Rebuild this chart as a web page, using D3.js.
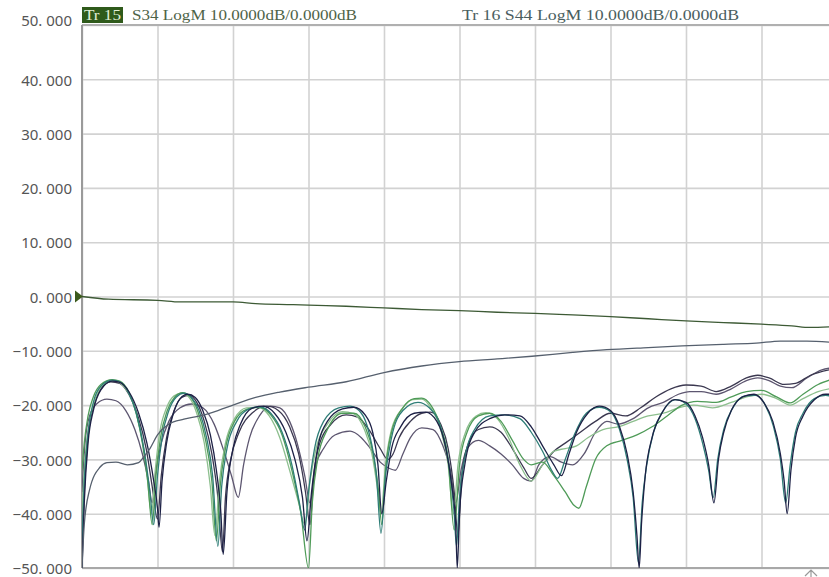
<!DOCTYPE html>
<html><head><meta charset="utf-8">
<script src="https://cdn.jsdelivr.net/npm/d3@7"></script>
<style>
html,body{margin:0;padding:0;background:#fff;}
svg{display:block;}
</style></head>
<body>
<svg id="c" width="829" height="577"></svg>
<script>
// ---------- data (x in divisions 0..10, y in dB) ----------
const yTicks = [50, 40, 30, 20, 10, 0, -10, -20, -30, -40, -50];
const xDivs = [0,1,2,3,4,5,6,7,8,9,10];
const header1Tag = "Tr 15";
const header1Text = "S34 LogM 10.0000dB/0.0000dB";
const header2Text = "Tr 16 S44 LogM 10.0000dB/0.0000dB";

const traceS34 = [[0,0],[0.35,-0.5],[1.0,-0.7],[1.3,-1.0],[2.0,-1.0],[2.3,-1.3],[2.8,-1.5],[3.0,-1.6],[3.5,-1.8],[4.0,-2.1],[4.5,-2.4],[5.0,-2.6],[5.5,-2.9],[6.0,-3.1],[6.5,-3.4],[7.0,-3.7],[7.5,-4.1],[8.0,-4.5],[8.5,-4.8],[9.0,-5.1],[9.4,-5.4],[9.64,-5.7],[9.9,-5.6]];

const traceS44 = [[0,-50],[0.03,-42],[0.1,-35.6],[0.24,-31.4],[0.33,-30.6],[0.45,-30.5],[0.6,-31],[0.75,-30.6],[0.82,-29.5],[0.9,-28],[1.0,-25.5],[1.15,-23.5],[1.35,-22.6],[1.56,-22.0],[1.8,-21],[2.0,-20],[2.3,-18.6],[2.62,-17.6],[3.0,-16.7],[3.5,-15.7],[4.0,-14.0],[4.5,-12.8],[5.0,-12.0],[5.5,-11.5],[5.96,-11.0],[6.5,-10.3],[6.95,-9.8],[7.5,-9.4],[7.95,-9.1],[8.5,-8.8],[8.93,-8.6],[9.25,-8.2],[9.6,-8.2],[9.9,-8.4]];

const traceNavy = [[0,-50],[0.03,-38],[0.08,-27],[0.15,-21],[0.25,-17.2],[0.4,-15.6],[0.5,-15.8],[0.62,-17.5],[0.75,-21.5],[0.86,-27],[0.95,-34],[1.0,-39],[1.02,-42.5],
[1.06,-34],[1.12,-27],[1.2,-22],[1.3,-18.8],[1.4,-18],[1.5,-18.6],[1.6,-21],[1.7,-25.5],[1.78,-32],[1.84,-40],[1.87,-47.5],
[1.92,-36],[2.0,-28],[2.1,-23.5],[2.25,-20.6],[2.4,-20.2],[2.55,-21.5],[2.7,-25],[2.82,-30],[2.92,-37],[2.98,-45],
[3.04,-36],[3.12,-28],[3.25,-23],[3.45,-20.7],[3.6,-20.4],[3.75,-21.8],[3.85,-25],[3.92,-31],[3.97,-40],
[4.03,-34],[4.1,-28],[4.22,-24],[4.4,-21.5],[4.55,-21.3],[4.7,-23],[4.82,-28],[4.9,-35],[4.95,-42],[4.97,-50],
[5.0,-40],[5.07,-31],[5.2,-25],[5.4,-22.5],[5.6,-21.8],[5.8,-22],[5.95,-24],[6.1,-27.5],[6.25,-31],[6.35,-33],
[6.45,-29],[6.55,-25],[6.7,-21.5],[6.85,-20.2],[7.0,-21],[7.12,-24],[7.22,-29],[7.3,-36],[7.35,-44],[7.38,-50],
[7.41,-42],[7.46,-33],[7.55,-26],[7.68,-21.5],[7.85,-19],[8.0,-19.5],[8.12,-22],[8.22,-26],[8.3,-31],[8.37,-38],
[8.43,-30],[8.5,-25],[8.6,-21],[8.75,-18.5],[8.9,-18],[9.03,-19.5],[9.15,-23],[9.25,-29],[9.3,-34],[9.34,-40],
[9.39,-32],[9.45,-26],[9.55,-22],[9.7,-19],[9.85,-18],[9.9,-18]];

const traceTeal = [[0,-45],[0.03,-34],[0.08,-25],[0.15,-19.5],[0.25,-16.5],[0.4,-15.4],[0.5,-15.7],[0.62,-17.8],[0.72,-21.5],[0.82,-28],[0.9,-36],[0.95,-42],
[1.0,-33],[1.06,-26],[1.15,-21],[1.25,-18.5],[1.35,-17.8],[1.45,-18.6],[1.55,-21],[1.65,-26],[1.73,-33],[1.8,-46],
[1.85,-35],[1.92,-28],[2.05,-23],[2.2,-20.8],[2.35,-20.3],[2.5,-21.5],[2.65,-25],[2.78,-31],[2.88,-38],[2.95,-43],
[3.0,-36],[3.08,-28],[3.2,-23],[3.4,-20.5],[3.55,-20.2],[3.7,-21.5],[3.8,-25],[3.9,-33],[3.96,-43.6],
[4.02,-33],[4.1,-26],[4.25,-21],[4.45,-19.5],[4.6,-20.5],[4.75,-24],[4.85,-30],[4.93,-40],[4.96,-46],
[5.0,-37],[5.08,-29],[5.2,-24.5],[5.4,-22],[5.6,-21.8],[5.8,-22.5],[5.95,-25],[6.1,-28.5],[6.22,-32],[6.3,-33.5],
[6.4,-30],[6.52,-25.5],[6.68,-21.5],[6.85,-20.4],[7.0,-21.2],[7.12,-24.5],[7.22,-30],[7.3,-37],[7.37,-49],
[7.42,-38],[7.48,-31],[7.57,-25],[7.7,-21],[7.86,-19],[8.0,-19.8],[8.12,-22.5],[8.22,-27],[8.3,-32],[8.36,-37],
[8.42,-30],[8.5,-24.5],[8.62,-20.5],[8.78,-18.3],[8.92,-18.2],[9.05,-20],[9.16,-24],[9.25,-30],[9.32,-38],
[9.38,-31],[9.45,-25],[9.55,-21.5],[9.7,-18.8],[9.85,-18.2],[9.9,-18.3]];

const traceGreen = [[0,-32],[0.03,-27],[0.08,-22],[0.15,-18.5],[0.25,-16.2],[0.4,-15.3],[0.5,-15.6],[0.62,-17.6],[0.72,-21.5],[0.8,-27],[0.87,-34],[0.93,-42],
[0.98,-33],[1.04,-26],[1.13,-21],[1.23,-18.5],[1.33,-17.7],[1.43,-18.4],[1.53,-21],[1.63,-26],[1.72,-34],[1.78,-45],
[1.83,-35],[1.9,-28],[2.02,-23],[2.18,-20.8],[2.35,-20.4],[2.5,-21.8],[2.65,-25.5],[2.78,-32],[2.9,-40],[3.0,-50],
[3.05,-38],[3.12,-30],[3.25,-24.5],[3.45,-21.5],[3.6,-21.5],[3.75,-24],[3.85,-28.5],[3.93,-36],[3.97,-42],
[4.02,-32],[4.1,-25],[4.25,-20.5],[4.4,-18.8],[4.5,-18.7],[4.62,-20],[4.75,-24],[4.85,-30],[4.93,-43],
[5.0,-31],[5.1,-25],[5.25,-22],[5.4,-21.5],[5.55,-23],[5.7,-26.5],[5.85,-30],[5.95,-31],[6.1,-30.5],[6.25,-33],[6.4,-36],[6.52,-38.5],[6.58,-39],[6.68,-35],[6.8,-30],[6.95,-27.5],[7.15,-26.5],[7.35,-25.5],[7.55,-24],[7.75,-22],[7.95,-20],[8.15,-19.3],[8.4,-19.5],[8.6,-18.5],[8.8,-17.5],[9.0,-17.3],[9.2,-18.5],[9.38,-19.6],[9.55,-18],[9.75,-16.2],[9.9,-15.4]];

const traceLight = [[0,-40],[0.04,-30],[0.1,-23],[0.2,-18],[0.3,-16],[0.42,-15.5],[0.55,-16.5],[0.66,-19],[0.76,-24],[0.85,-31],[0.92,-40],
[0.97,-32],[1.03,-25],[1.12,-20.5],[1.22,-18.3],[1.32,-17.8],[1.42,-18.6],[1.52,-21.5],[1.62,-27],[1.7,-35],[1.76,-44],
[1.82,-34],[1.9,-27],[2.02,-22.5],[2.18,-20.5],[2.33,-20.4],[2.48,-22],[2.62,-26],[2.75,-32],[2.87,-38],[2.95,-42],
[3.02,-34],[3.1,-28],[3.25,-23.5],[3.45,-21.2],[3.6,-21.6],[3.74,-24.5],[3.84,-29],[3.92,-36],[3.96,-40],
[4.02,-31],[4.1,-24.5],[4.25,-20.5],[4.38,-19],[4.5,-18.9],[4.62,-20.5],[4.75,-24.5],[4.85,-31],[4.92,-40],
[4.98,-31],[5.08,-25],[5.22,-22],[5.35,-21.4],[5.5,-22.5],[5.65,-26],[5.8,-31],[5.95,-34],[6.1,-31],[6.25,-28.5],[6.4,-28],[6.55,-27.5],[6.7,-26],[6.9,-24.5],[7.1,-24],[7.3,-23],[7.5,-22],[7.7,-21.5],[7.9,-20.5],[8.1,-20],[8.35,-20.5],[8.6,-19.5],[8.8,-18.5],[9.0,-18],[9.2,-18.8],[9.38,-20],[9.55,-18.8],[9.75,-17.5],[9.9,-17]];

const traceGray = [[0,-36],[0.04,-27],[0.1,-22],[0.2,-19.7],[0.33,-18.9],[0.45,-19.2],[0.58,-21],[0.7,-24.5],[0.8,-29],[0.88,-34],[0.93,-38],
[0.98,-32],[1.05,-27],[1.15,-23],[1.3,-20.5],[1.45,-19.8],[1.6,-20.5],[1.75,-23.5],[1.88,-28.5],[1.98,-33],[2.07,-37],
[2.14,-31],[2.22,-26],[2.35,-22],[2.5,-20.2],[2.62,-20.5],[2.75,-23],[2.85,-27],[2.95,-33],[3.02,-38],
[3.1,-31],[3.2,-28],[3.35,-25.5],[3.55,-24.8],[3.7,-26],[3.82,-28],[3.95,-30.5],[4.05,-31.5],[4.15,-32],
[4.25,-29],[4.35,-26],[4.5,-24.2],[4.65,-24.5],[4.78,-27.5],[4.88,-32],[4.95,-38],
[5.02,-32],[5.1,-28],[5.25,-26.5],[5.4,-27.5],[5.55,-29],[5.7,-31],[5.85,-33.5],[5.95,-34],[6.05,-31],[6.2,-29.5],[6.35,-30.5],[6.5,-31],[6.65,-29],[6.8,-25],[6.95,-23],[7.1,-23.5],[7.3,-22.5],[7.5,-20.5],[7.7,-19.5],[7.9,-18],[8.05,-17.5],[8.2,-17.5],[8.4,-18],[8.6,-17],[8.8,-15.5],[8.95,-15],[9.1,-15.5],[9.25,-16.5],[9.4,-16.8],[9.6,-15],[9.8,-13.5],[9.9,-13.2]];

const traceDark = [[0,-48],[0.03,-36],[0.08,-26],[0.15,-20.5],[0.25,-17],[0.38,-15.7],[0.5,-16],[0.62,-18],[0.74,-22],[0.85,-28],[0.93,-35],[1.0,-41],
[1.05,-33],[1.12,-26],[1.22,-21],[1.32,-18.6],[1.42,-18.2],[1.52,-19.5],[1.62,-23],[1.72,-29],[1.8,-37],[1.86,-47],
[1.9,-37],[1.97,-30],[2.08,-25],[2.25,-21.5],[2.45,-20.2],[2.6,-21],[2.75,-24],[2.87,-29],[2.96,-36],[3.02,-42],
[3.07,-33],[3.15,-27],[3.3,-23.5],[3.5,-21.8],[3.65,-22.2],[3.8,-24.5],[3.95,-28],[4.05,-30],[4.12,-29],
[4.2,-26],[4.35,-23],[4.5,-21.5],[4.62,-21.3],[4.75,-23.5],[4.85,-28],[4.93,-36],[4.98,-44],
[5.03,-33],[5.12,-27],[5.25,-24.5],[5.4,-24],[5.55,-25],[5.7,-28],[5.85,-31.5],[5.95,-33.5],[6.1,-31],[6.25,-28.5],[6.4,-27],[6.6,-25],[6.8,-23],[7.0,-21.5],[7.2,-22],[7.4,-20.5],[7.6,-18.5],[7.8,-17],[8.0,-16.3],[8.2,-16.5],[8.4,-17.5],[8.6,-16.5],[8.8,-15],[8.95,-14.5],[9.1,-15],[9.3,-16.2],[9.45,-16],[9.65,-14.5],[9.9,-13.5]];

// ---------- drawing ----------
const plotL = 82, plotR = 837, plotT = 25, plotB = 568;
const svg = d3.select("#c");
const x = d3.scaleLinear().domain([0, 10]).range([plotL, plotR]);
const y = d3.scaleLinear().domain([-50, 50]).range([plotB, plotT]);

svg.append("defs").append("clipPath").attr("id","plot")
  .append("rect").attr("x", plotL).attr("y", plotT).attr("width", plotR-plotL).attr("height", plotB-plotT);

// grid
const gx = svg.append("g").attr("transform", `translate(0,${plotB})`)
  .call(d3.axisBottom(x).tickValues(xDivs).tickSize(-(plotB-plotT)).tickFormat(""));
gx.select(".domain").remove();
gx.selectAll("line").attr("stroke", "#d2d2d2").attr("stroke-width", 1.6);

const gy = svg.append("g").attr("transform", `translate(${plotL},0)`)
  .call(d3.axisLeft(y).tickValues(yTicks).tickSize(-(plotR-plotL)).tickPadding(10)
    .tickFormat(d => d3.format(".3f")(d).replace(".", ". ")));
gy.select(".domain").remove();
gy.selectAll("line").attr("stroke", "#d2d2d2").attr("stroke-width", 1.6);
gy.selectAll("text").attr("fill", "#555").attr("font-family", "'Noto Sans', sans-serif")
  .attr("font-size", 15).attr("dy", "0.38em");
gy.selectAll(".tick").filter(d => d === 50).select("text").attr("dy", "0.05em");

// borders
svg.append("line").attr("x1", plotL).attr("x2", plotR).attr("y1", plotT).attr("y2", plotT).attr("stroke", "#b0b0b0").attr("stroke-width", 2);
svg.append("line").attr("x1", plotL).attr("x2", plotR).attr("y1", plotB).attr("y2", plotB).attr("stroke", "#a8a8a8").attr("stroke-width", 2);
svg.append("line").attr("x1", plotL).attr("x2", plotL).attr("y1", plotT).attr("y2", plotB).attr("stroke", "#9a9a9a").attr("stroke-width", 2);

// traces
const line = d3.line().x(d => x(d[0])).y(d => y(d[1])).curve(d3.curveMonotoneX);
const traces = [
  {data: traceGray,  color: "#5d5670"},
  {data: traceDark,  color: "#3b3850"},
  {data: traceLight, color: "#8dbf8e"},
  {data: traceGreen, color: "#4f9b58"},
  {data: traceTeal,  color: "#2e7d77"},
  {data: traceNavy,  color: "#1d2146"},
  {data: traceS44,   color: "#56606e"},
  {data: traceS34,   color: "#3d5a35"}
];
const gT = svg.append("g").attr("clip-path", "url(#plot)");
traces.forEach(t => {
  gT.append("path").datum(t.data).attr("d", line)
    .attr("fill", "none").attr("stroke", t.color).attr("stroke-width", 1.3)
    .attr("stroke-linejoin", "round");
});

// reference marker
svg.append("path")
  .attr("d", `M${plotL-7},${y(0)-6} L${plotL+1},${y(0)} L${plotL-7},${y(0)+6} Z`)
  .attr("fill", "#3b5a1c");

// header
const hdrFont = "'Liberation Serif', 'DejaVu Serif', serif";
svg.append("rect").attr("x", plotL).attr("y", 7).attr("width", 41).attr("height", 16).attr("fill", "#2f5a1b");
svg.append("text").attr("x", 84).attr("y", 20).text(header1Tag)
  .attr("font-family", hdrFont).attr("font-size", 15)
  .attr("fill", "#e2efd6").attr("textLength", 37).attr("lengthAdjust", "spacingAndGlyphs");
svg.append("text").attr("x", 132).attr("y", 20).text(header1Text)
  .attr("font-family", hdrFont).attr("font-size", 15)
  .attr("fill", "#4e6347").attr("textLength", 225).attr("lengthAdjust", "spacingAndGlyphs");
svg.append("text").attr("x", 462).attr("y", 20).text(header2Text)
  .attr("font-family", hdrFont).attr("font-size", 15)
  .attr("fill", "#4a5e60").attr("textLength", 277).attr("lengthAdjust", "spacingAndGlyphs");

// small arrow glyph at bottom right
svg.append("path").attr("d", "M805,576 L811,570 L817,576 M811,570 L811,577")
  .attr("fill", "none").attr("stroke", "#999").attr("stroke-width", 1.2);
</script>
</body></html>
